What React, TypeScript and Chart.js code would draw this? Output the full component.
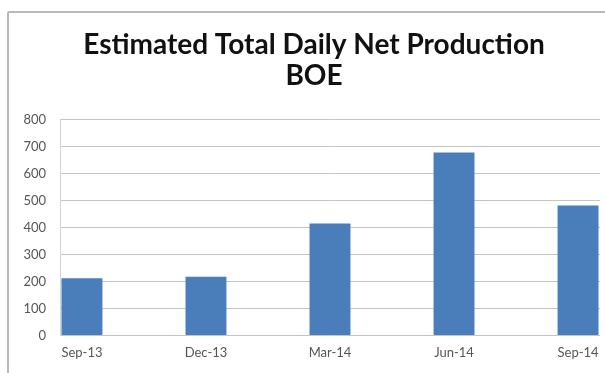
import React, { useEffect, useRef } from "react";
import { Chart, registerables } from "chart.js";

Chart.register(...registerables);

const categories = ["Sep-13", "Dec-13", "Mar-14", "Jun-14", "Sep-14"];
const production = [212, 217, 415, 678, 482];
const titleLines = ["Estimated Total Daily Net Production", "BOE"];
const yMin = 0;
const yMax = 800;
const yStep = 100;

export default function App() {
  const ref = useRef<HTMLCanvasElement>(null);

  useEffect(() => {
    document.body.style.margin = "0";
    document.body.style.overflow = "hidden";
    const tickFont = { family: "Lato", size: 13 };
    const centerTitle = {
      id: "centerTitle",
      afterLayout: (c: any) => {
        if (c.titleBlock) c.titleBlock.left = 28;
      },
    };
    const chart = new Chart(ref.current!, {
      type: "bar",
      data: {
        datasets: [
          {
            data: production.map((v, i) => ({ x: i, y: v })),
            backgroundColor: "#4a7ebb",
            barPercentage: 0.33,
            categoryPercentage: 1,
          },
        ],
      },
      plugins: [centerTitle],
      options: {
        animation: false,
        responsive: false,
        layout: { padding: { left: 0, right: 28, top: 0, bottom: 2 } },
        plugins: {
          legend: { display: false },
          tooltip: { enabled: false },
          title: {
            display: true,
            text: titleLines,
            color: "#111",
            font: { family: "Lato", size: 28, weight: "bold", lineHeight: 1.1 },
            padding: { top: 30, bottom: 28 },
          },
        },
        scales: {
          x: {
            type: "linear",
            offset: false,
            min: -0.177,
            max: 4.177,
            afterBuildTicks: (s: any) => {
              s.ticks = categories.map((_, i) => ({ value: i }));
            },
            ticks: {
              callback: (v: any) => categories[Math.round(Number(v))],
              font: tickFont,
              color: "#555",
              padding: 10,
              maxRotation: 0,
              autoSkip: false,
            },
            grid: { display: false, drawTicks: false },
            border: { display: false },
          },
          y: {
            min: yMin,
            max: yMax,
            ticks: { stepSize: yStep, font: tickFont, color: "#555", padding: 14 },
            grid: { color: "#c4c4c4", drawTicks: false },
            border: { display: true, color: "#d4d4d4" },
            afterFit: (s: any) => {
              s.width = 60;
            },
          },
        },
      },
    });
    return () => chart.destroy();
  }, []);

  return (
    <div style={{ position: "relative", width: 605, height: 373, overflow: "hidden", background: "#fff" }}>
      <div
        style={{
          position: "absolute",
          left: 7,
          top: 11,
          width: 640,
          height: 400,
          border: "2px solid #b9b9b9",
          borderRadius: 2,
          boxSizing: "border-box",
        }}
      />
      <canvas ref={ref} width={628} height={373} style={{ position: "absolute", left: 0, top: 0 }} />
    </div>
  );
}
